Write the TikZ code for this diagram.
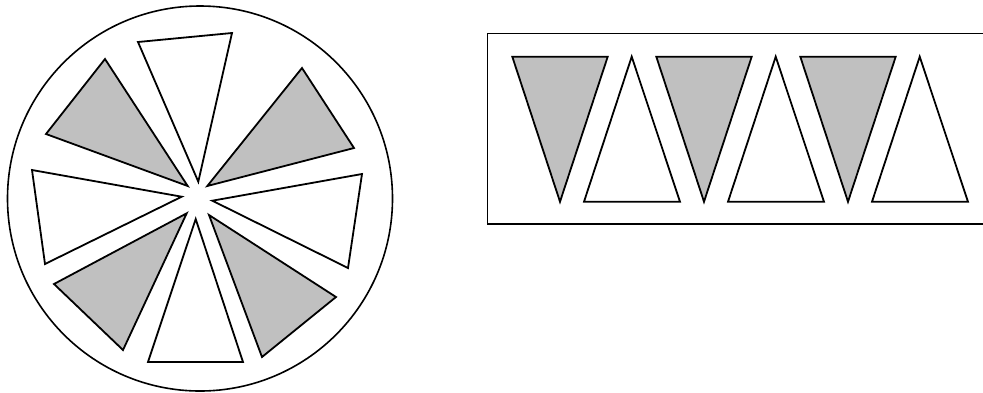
\documentclass[tikz,border=0pt]{standalone}
\definecolor{pgray}{HTML}{C0C0C0}
\begin{document}
\begin{tikzpicture}[x=1pt,y=-1pt,line width=1.8pt,line join=miter,
  gtri/.style={draw=black,fill=pgray},
  wtri/.style={draw=black,fill=white}]
\useasboundingbox (0,0) rectangle (983,392);
\clip (0,0) rectangle (983,392);
% circle
\draw[line width=1.6pt] (200,198.5) circle (192.5);
% circle triangles
\draw[wtri] (138,42) -- (232,33) -- (198.3,181.7) -- cycle;
\draw[gtri] (105,59) -- (46,134) -- (187.7,186) -- cycle;
\draw[gtri] (302,68) -- (354,148) -- (207.3,186) -- cycle;
\draw[wtri] (32,170) -- (45,264) -- (181.7,196.7) -- cycle;
\draw[wtri] (362,174) -- (348,268) -- (212.3,200.7) -- cycle;
\draw[gtri] (54,284) -- (123,350) -- (186.7,213.3) -- cycle;
\draw[wtri] (148,362) -- (243,362) -- (195.7,219) -- cycle;
\draw[gtri] (209,215) -- (336,297) -- (262,357) -- cycle;
% rectangle
\draw (487.5,33.5) rectangle (1000,224);
% strip triangles
\foreach \i in {0,1,2}{
  \draw[gtri] ({512.3+144*\i},56.7) -- ({607.7+144*\i},56.7) -- ({560+144*\i},201.7) -- cycle;
  \draw[wtri] ({584+144*\i},201.7) -- ({680+144*\i},201.7) -- ({631.7+144*\i},56.7) -- cycle;
}
\end{tikzpicture}
\end{document}
